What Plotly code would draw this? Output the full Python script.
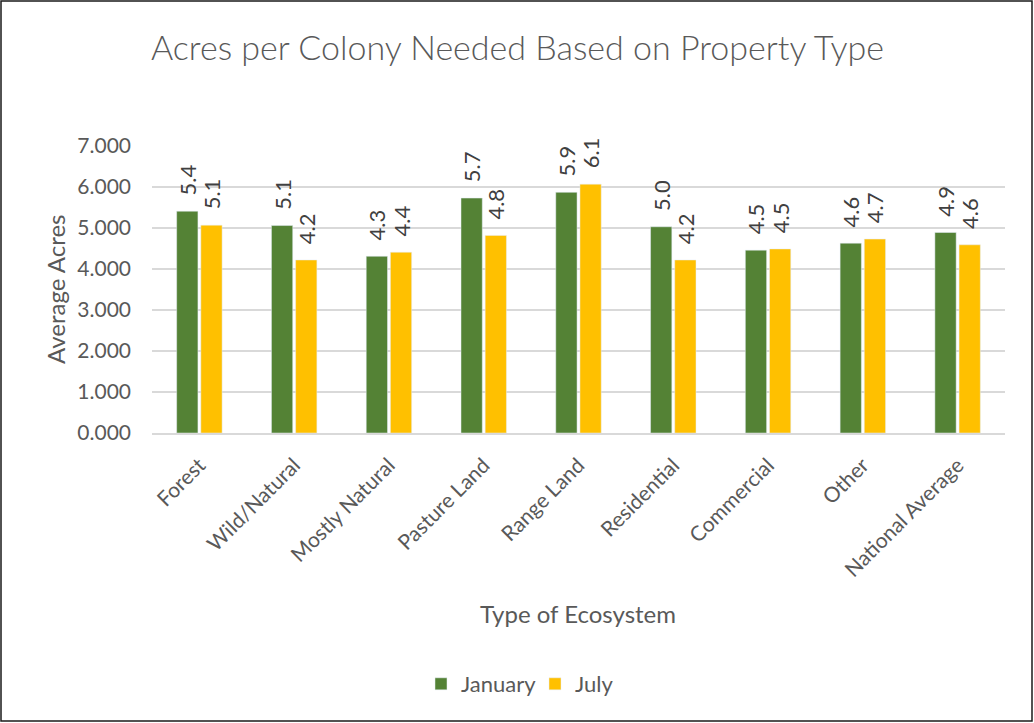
import plotly.graph_objects as go

# Property types and average acres per colony
categories = [
    "Forest", "Wild/Natural", "Mostly Natural", "Pasture Land", "Range Land",
    "Residential", "Commercial", "Other", "National Average",
]
january = [5.41, 5.06, 4.31, 5.73, 5.87, 5.03, 4.46, 4.63, 4.89]
july = [5.07, 4.22, 4.41, 4.82, 6.07, 4.22, 4.49, 4.73, 4.59]
y_ticks = [0, 1, 2, 3, 4, 5, 6, 7]

FONT = "Lato"
GREY = "#595959"

W, H = 1034, 723
ML, MR, MT, MB = 152, 29, 146, 290
PW, PH = W - ML - MR, H - MT - MB

# an invisible leading glyph keeps a gap between bar top and the rotated label
PAD = "<span style='color:rgba(0,0,0,0)'>0</span>"


def px_x(x):
    return (x - ML) / PW


def px_y(y):
    return (H - MB - y) / PH


fig = go.Figure()

fig.add_trace(
    go.Bar(
        x=categories,
        y=january,
        name="January",
        marker_color="#548235",
        text=[f"{PAD}{v:.1f}" for v in january],
        textposition="outside",
        textangle=-90,
        textfont=dict(family=FONT, size=22, color="#404040"),
        cliponaxis=False,
    )
)

fig.add_trace(
    go.Bar(
        x=categories,
        y=july,
        name="July",
        marker_color="#FFC000",
        text=[f"{PAD}{v:.1f}" for v in july],
        textposition="outside",
        textangle=-90,
        textfont=dict(family=FONT, size=22, color="#404040"),
        cliponaxis=False,
    )
)

fig.update_layout(
    width=W,
    height=H,
    margin=dict(l=ML, r=MR, t=MT, b=MB),
    paper_bgcolor="white",
    plot_bgcolor="white",
    barmode="group",
    bargap=0.49,
    bargroupgap=0.12,
    font=dict(family=FONT, color=GREY),
    showlegend=True,
    legend=dict(
        orientation="h",
        x=px_x(535),
        xanchor="center",
        y=px_y(684),
        yanchor="middle",
        entrywidth=69,
        itemwidth=30,
        font=dict(family=FONT, size=22, color=GREY),
    ),
    annotations=[
        dict(
            text="Acres per Colony Needed Based on Property Type",
            xref="paper", yref="paper",
            x=px_x(517), y=px_y(47),
            xanchor="center", yanchor="middle",
            showarrow=False,
            font=dict(family=FONT, size=34, color=GREY, weight=300),
        ),
        dict(
            text="Average Acres",
            xref="paper", yref="paper",
            x=px_x(55), y=px_y(290),
            xanchor="center", yanchor="middle",
            textangle=-90,
            showarrow=False,
            font=dict(family=FONT, size=24, color=GREY),
        ),
        dict(
            text="Type of Ecosystem",
            xref="paper", yref="paper",
            x=px_x(578), y=px_y(613),
            xanchor="center", yanchor="middle",
            showarrow=False,
            font=dict(family=FONT, size=24, color=GREY),
        ),
    ],
    shapes=[
        dict(
            type="rect",
            xref="paper", yref="paper",
            x0=px_x(1), x1=px_x(1032),
            y0=px_y(721), y1=px_y(1),
            line=dict(color="#1a1a1a", width=1.5),
        )
    ],
)

fig.update_traces(constraintext="none")

fig.update_xaxes(
    tickangle=-45,
    tickfont=dict(family=FONT, size=21, color=GREY),
    showline=True,
    linecolor="#d9d9d9",
    linewidth=1.5,
    ticks="",
    ticklabelstandoff=10,
)

fig.update_yaxes(
    range=[0, 7],
    tickvals=y_ticks,
    tickformat=".3f",
    tickfont=dict(family=FONT, size=21, color=GREY),
    showgrid=True,
    gridcolor="#d9d9d9",
    gridwidth=1.5,
    zeroline=False,
    ticks="",
    ticklabelstandoff=20,
)

fig.write_html(
    "out.html",
    config={"displayModeBar": False},
    post_script="document.body.style.margin='0';",
)
